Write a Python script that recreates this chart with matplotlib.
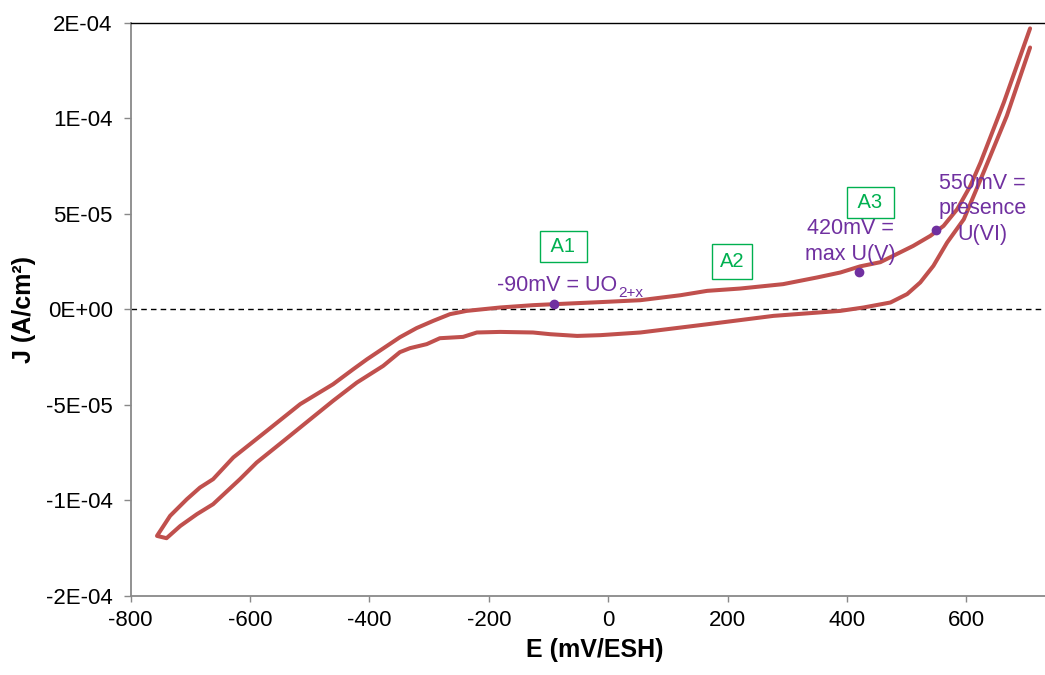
import numpy as np
import matplotlib
matplotlib.use("Agg")
import matplotlib.pyplot as plt

plt.rcParams['font.family'] = ['Liberation Sans', 'DejaVu Sans']
plt.rcParams['axes.unicode_minus'] = False

# Cyclic voltammogram: upper (anodic) and lower branches, potential in mV/ESH, J in A/cm2
e_upper = [-756, -734, -706, -684, -662, -628, -572, -516, -461, -427, -404, -349, -321,
           -293, -265, -237, -181, -126, -92, -13, 54, 121, 166, 221, 293, 350, 389, 422,
           456, 511, 540, 562, 585, 607, 624, 663, 707]
j_upper = [-1.187e-4, -1.082e-4, -9.95e-5, -9.34e-5, -8.90e-5, -7.76e-5, -6.37e-5, -4.97e-5,
           -3.93e-5, -3.14e-5, -2.62e-5, -1.47e-5, -9.9e-6, -6.1e-6, -2.6e-6, -8.9e-7, 8.9e-7,
           2.1e-6, 2.6e-6, 3.7e-6, 4.7e-6, 7.3e-6, 9.6e-6, 1.08e-5, 1.31e-5, 1.66e-5, 1.92e-5,
           2.24e-5, 2.46e-5, 3.31e-5, 3.84e-5, 4.36e-5, 5.24e-5, 6.46e-5, 7.68e-5, 1.082e-4,
           1.470e-4]
e_lower = [-740, -717, -689, -662, -650, -617, -589, -544, -499, -461, -421, -377, -349, -332,
           -304, -282, -243, -220, -181, -126, -97, -52, -13, 54, 166, 277, 389, 428, 473, 501,
           523, 545, 568, 596, 629, 668, 707]
j_lower = [-1.199e-4, -1.135e-4, -1.073e-4, -1.021e-4, -9.86e-5, -8.90e-5, -8.03e-5, -6.90e-5,
           -5.76e-5, -4.80e-5, -3.84e-5, -2.97e-5, -2.25e-5, -2.04e-5, -1.83e-5, -1.52e-5,
           -1.45e-5, -1.22e-5, -1.19e-5, -1.22e-5, -1.31e-5, -1.40e-5, -1.36e-5, -1.22e-5,
           -7.9e-6, -3.5e-6, -8.9e-7, 8.9e-7, 3.5e-6, 7.9e-6, 1.40e-5, 2.27e-5, 3.49e-5,
           4.71e-5, 7.16e-5, 1.012e-4, 1.370e-4]

# Marked potentials on the anodic branch
marker_e = [-90, 420, 550]
marker_j = [2.6e-6, 1.95e-5, 4.15e-5]

# Region labels
region_names = ["A1", "A2", "A3"]
region_e = [-75, 208, 440]
region_j = [3.29e-5, 2.50e-5, 5.60e-5]

x_ticks = [-800, -600, -400, -200, 0, 200, 400, 600]
y_ticks = [-1.5e-4, -1e-4, -5e-5, 0, 5e-5, 1e-4, 1.5e-4]
y_ticklabels = ["-2E-04", "-1E-04", "-5E-05", "0E+00", "5E-05", "1E-04", "2E-04"]

RED = "#C0504D"
PURPLE = "#7030A0"
GREEN = "#00B050"
GRAY = "#898989"

fig = plt.figure(figsize=(10.45, 6.75), dpi=100)
ax = fig.add_axes([0.1251, 0.1175, 0.8749, 0.8489])

# One continuous loop: down the upper branch, around the cathodic tip, up the lower branch
e_loop = np.concatenate([np.array(e_upper)[::-1], e_lower])
j_loop = np.concatenate([np.array(j_upper)[::-1], j_lower])
ax.plot(e_loop, j_loop, color=RED, lw=2.9, solid_joinstyle='round',
        solid_capstyle='round', zorder=3)

ax.axhline(0, color='black', lw=1.0, ls=(0, (4, 3)), zorder=2)

ax.plot(marker_e, marker_j, 'o', color=PURPLE, ms=6, zorder=4)

# "-90mV = UO" with a "2+x" subscript attached to its right end
t_uo = ax.text(-186, 9.6e-6, f"{marker_e[0]}mV = UO", color=PURPLE, fontsize=15.5,
               ha='left', va='baseline', zorder=5)
ax.annotate("2+x", xy=(1.0, 0.0), xycoords=t_uo, xytext=(0.5, -3.0),
            textcoords='offset points', color=PURPLE, fontsize=11,
            ha='left', va='bottom', zorder=5)
ax.text(406, 3.56e-5, f"{marker_e[1]}mV =\nmax U(V)", color=PURPLE, fontsize=15.5,
        ha='center', va='center', linespacing=1.3, zorder=5)
ax.text(627, 5.25e-5, f"{marker_e[2]}mV =\npresence\nU(VI)", color=PURPLE, fontsize=15.5,
        ha='center', va='center', linespacing=1.3, zorder=5)

box_pads = [0.3, 0.38, 0.3]
box_texts = [" A1 ", "A2", " A3 "]
for label, e, j, pad in zip(box_texts, region_e, region_j, box_pads):
    ax.text(e, j, label, color=GREEN, fontsize=14.5, ha='center', va='center', zorder=5,
            bbox=dict(boxstyle=f'square,pad={pad}', fc='white', ec=GREEN, lw=1.0))

ax.set_xlim(-800, 732)
ax.set_ylim(-1.5e-4, 1.5e-4)
ax.set_xticks(x_ticks)
ax.set_xticklabels([str(v) for v in x_ticks])
ax.set_yticks(y_ticks)
ax.set_yticklabels(y_ticklabels)

ax.spines['right'].set_visible(False)
ax.spines['top'].set_color('black')
ax.spines['top'].set_linewidth(1.0)
for s in ('left', 'bottom'):
    ax.spines[s].set_color(GRAY)
    ax.spines[s].set_linewidth(1.3)

ax.tick_params(axis='x', direction='out', length=4, width=1, color=GRAY,
               labelsize=16, pad=6)
ax.tick_params(axis='y', direction='out', length=5, width=1, color=GRAY,
               labelsize=16, pad=8)

ax.set_xlabel("E (mV/ESH)", fontsize=18, fontweight='bold')
ax.set_ylabel("J (A/cm²)", fontsize=18, fontweight='bold')
ax.xaxis.set_label_coords(0.507, -0.0747)
ax.yaxis.set_label_coords(-0.1036, 0.5)

fig.savefig("out.png", dpi=100)
